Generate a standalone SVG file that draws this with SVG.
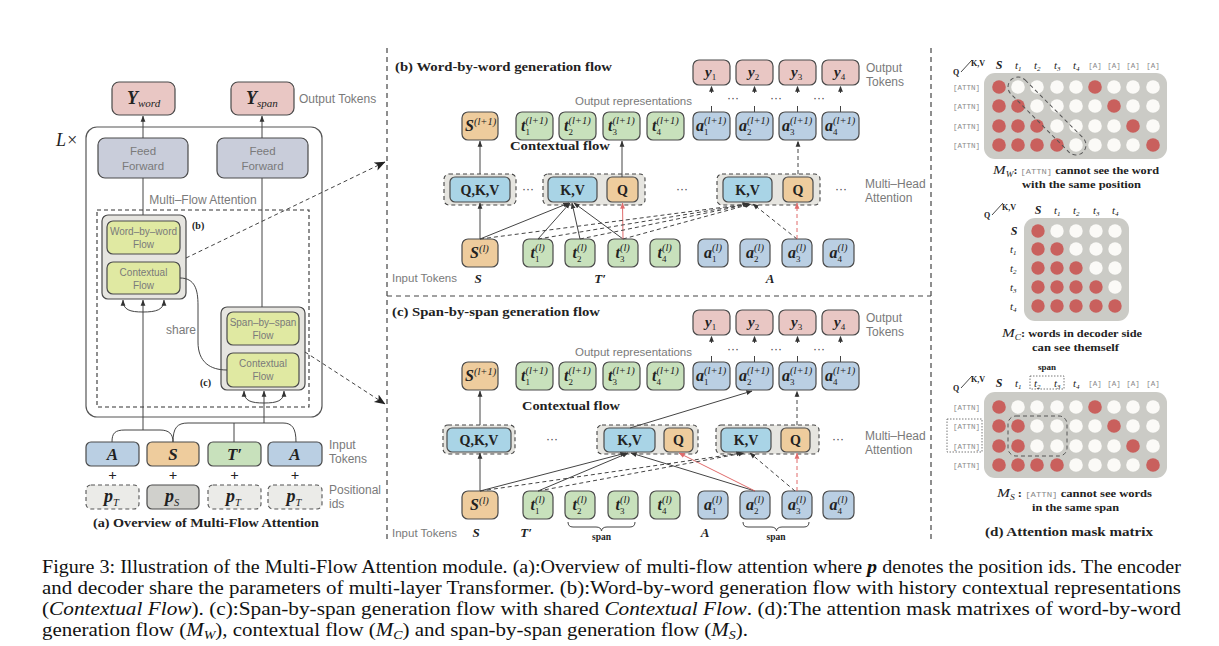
<svg xmlns="http://www.w3.org/2000/svg" width="1219" height="646" viewBox="0 0 1219 646">
<defs>
<style>
.bx{stroke:#4a4a4a;stroke-width:1.2}
.pk{fill:#e9c7c4}.or{fill:#eecc9d}.gr{fill:#c8e1bc}.bl{fill:#bacfe3}.cy{fill:#a9d4e6}.ye{fill:#e0e9a2}.ff{fill:#c9cdda}
.gb{fill:#e6e5e0;stroke:#4a4a4a;stroke-width:1.2}
.grp{fill:#e6e5e0;stroke:#444;stroke-width:1.1;stroke-dasharray:4 3}
.pd{fill:#ebebe8;stroke:#555;stroke-width:1.1;stroke-dasharray:4 3}
.sn{font-family:"Liberation Sans",Arial,sans-serif;fill:#7a7a7a}
.sf{font-family:"Liberation Serif","Times New Roman",serif;fill:#222}
.bi{font-family:"Liberation Serif","Times New Roman",serif;font-style:italic;font-weight:bold;fill:#222}
.it{font-style:italic;font-weight:normal}
.up{font-style:normal;font-weight:normal}
.b{font-weight:bold}
.mono{font-family:"Liberation Mono","Courier New",monospace;fill:#8a8a8a}
.ln{stroke:#444;stroke-width:1;fill:none}
.dl{stroke:#444;stroke-width:1;fill:none;stroke-dasharray:4 3}
.rl{stroke:#e06b6b;stroke-width:1;fill:none}
.rd{stroke:#e06b6b;stroke-width:1;fill:none;stroke-dasharray:4 3}
.dv{stroke:#444;stroke-width:1.2;stroke-dasharray:5 4;fill:none}
.red{fill:#c9605d}.wh{fill:#fbfaf7}
.mat{fill:#cbcbc6}
.dots{font-family:"Liberation Sans",Arial,sans-serif;font-size:12px;fill:#444;text-anchor:middle}
.ctr{text-anchor:middle}
.cap{font-family:"Liberation Serif","Times New Roman",serif;font-size:18px;fill:#111}
.tk{font-size:16px}
.sb{font-size:9px;font-style:normal;font-weight:normal}
.sp{font-size:10.5px;font-style:italic;font-weight:normal}
</style>
<marker id="ah" viewBox="0 0 8 8" refX="7.5" refY="4" markerWidth="6" markerHeight="6" markerUnits="userSpaceOnUse" orient="auto"><path d="M0,0.8 L8,4 L0,7.2z" fill="#333"/></marker>
<marker id="ahr" viewBox="0 0 8 8" refX="7.5" refY="4" markerWidth="6" markerHeight="6" markerUnits="userSpaceOnUse" orient="auto"><path d="M0,0.8 L8,4 L0,7.2z" fill="#e06b6b"/></marker>
<marker id="ahb" viewBox="0 0 10 10" refX="9.5" refY="5" markerWidth="11" markerHeight="11" markerUnits="userSpaceOnUse" orient="auto"><path d="M0,1 L10,5 L0,9 L2.5,5z" fill="#222"/></marker>
</defs>
<rect width="1219" height="646" fill="#ffffff"/>

<!-- ============ Panel (a) ============ -->
<g id="a-outer"><rect x="86" y="127" width="236" height="290" rx="11" fill="none" stroke="#555" stroke-width="1.2"/>
<text class="sf it" x="56" y="146" font-size="18">L×</text></g>
<g id="a-yword"><rect class="bx pk" x="112" y="82" width="63" height="33" rx="7"/><text class="bi" x="127" y="104" font-size="18">Y<tspan class="it" font-size="11" dy="3">word</tspan></text></g>
<g id="a-yspan"><rect class="bx pk" x="231" y="82" width="63" height="33" rx="7"/><text class="bi" x="246" y="104" font-size="18">Y<tspan class="it" font-size="11" dy="3">span</tspan></text></g>
<text class="sn" x="299" y="103" font-size="12">Output Tokens</text>
<g id="a-ff1"><rect class="bx ff" x="98" y="138" width="90" height="40" rx="7"/><text class="sn ctr" x="143" y="155" font-size="11.5">Feed</text><text class="sn ctr" x="143" y="170" font-size="11.5">Forward</text></g>
<g id="a-ff2"><rect class="bx ff" x="217" y="138" width="91" height="40" rx="7"/><text class="sn ctr" x="262.5" y="155" font-size="11.5">Feed</text><text class="sn ctr" x="262.5" y="170" font-size="11.5">Forward</text></g>
<text class="sn ctr" x="203" y="204" font-size="12">Multi–Flow Attention</text>
<rect x="97" y="210" width="212" height="197" fill="none" stroke="#333" stroke-width="1.1" stroke-dasharray="4 3"/>
<g id="a-boxb"><rect class="gb" x="102" y="215" width="84" height="84" rx="6"/>
<rect class="bx ye" x="107" y="221" width="73" height="33" rx="6"/><text class="sn ctr" x="143.5" y="235" font-size="10">Word–by–word</text><text class="sn ctr" x="143.5" y="248" font-size="10">Flow</text>
<rect class="bx ye" x="107" y="262" width="73" height="32" rx="6"/><text class="sn ctr" x="143.5" y="276" font-size="10">Contextual</text><text class="sn ctr" x="143.5" y="289" font-size="10">Flow</text>
<text class="sf b" x="192" y="229" font-size="10">(b)</text></g>
<g id="a-boxc"><rect class="gb" x="221" y="307" width="84" height="83" rx="6"/>
<rect class="bx ye" x="227" y="312" width="72" height="33" rx="6"/><text class="sn ctr" x="263" y="326" font-size="10">Span–by–span</text><text class="sn ctr" x="263" y="339" font-size="10">Flow</text>
<rect class="bx ye" x="227" y="353" width="72" height="34" rx="6"/><text class="sn ctr" x="263" y="367" font-size="10">Contextual</text><text class="sn ctr" x="263" y="380" font-size="10">Flow</text>
<text class="sf b" x="200" y="386" font-size="10">(c)</text></g>
<text class="sn" x="166" y="334" font-size="12">share</text>
<g id="a-in1"><rect class="bx bl" x="86" y="442" width="53" height="24" rx="5"/><text class="bi ctr" x="112.5" y="460" font-size="17">A</text></g>
<g id="a-in2"><rect class="bx or" x="147" y="442" width="52" height="24" rx="5"/><text class="bi ctr" x="173" y="460" font-size="17">S</text></g>
<g id="a-in3"><rect class="bx gr" x="208" y="442" width="53" height="24" rx="5"/><text class="bi ctr" x="234.5" y="460" font-size="17">T′</text></g>
<g id="a-in4"><rect class="bx bl" x="268" y="442" width="54" height="24" rx="5"/><text class="bi ctr" x="295" y="460" font-size="17">A</text></g>
<g class="sf b" font-size="15"><text class="ctr" x="112.5" y="480">+</text><text class="ctr" x="173" y="480">+</text><text class="ctr" x="234.5" y="480">+</text><text class="ctr" x="295" y="480">+</text></g>
<g id="a-p1"><rect class="pd" x="86" y="485" width="53" height="24" rx="5"/><text class="bi" x="104" y="502" font-size="18">p<tspan class="it" font-size="10.5" dy="4">T</tspan></text></g>
<g id="a-p2"><rect class="bx" fill="#d0d0cc" x="147" y="485" width="52" height="24" rx="5"/><text class="bi" x="165" y="502" font-size="18">p<tspan class="it" font-size="10.5" dy="4">S</tspan></text></g>
<g id="a-p3"><rect class="pd" x="208" y="485" width="53" height="24" rx="5"/><text class="bi" x="226" y="502" font-size="18">p<tspan class="it" font-size="10.5" dy="4">T</tspan></text></g>
<g id="a-p4"><rect class="pd" x="268" y="485" width="54" height="24" rx="5"/><text class="bi" x="286.5" y="502" font-size="18">p<tspan class="it" font-size="10.5" dy="4">T</tspan></text></g>
<text class="sn" x="329" y="449" font-size="12">Input</text><text class="sn" x="329" y="463" font-size="12">Tokens</text>
<text class="sn" x="329" y="494" font-size="12">Positional</text><text class="sn" x="329" y="508" font-size="12">ids</text>
<text class="sf b" x="93" y="527" font-size="12" textLength="226" lengthAdjust="spacingAndGlyphs">(a) Overview of Multi-Flow Attention</text>

<!-- dividers -->
<g id="dividers"><line class="dv" x1="387" y1="48" x2="387" y2="540"/><line class="dv" x1="931" y1="48" x2="931" y2="540"/><line class="dv" x1="387" y1="296" x2="931" y2="296"/></g>

<!-- ============ Panel (b) ============ -->
<text class="sf b" x="395" y="71" font-size="12.5" textLength="217" lengthAdjust="spacingAndGlyphs">(b) Word-by-word generation flow</text>
<g id="b-y">
<rect class="bx pk" x="693" y="60" width="37" height="25" rx="6"/><text class="bi" x="705" y="77" font-size="15">y<tspan class="sb" dy="3">1</tspan></text>
<rect class="bx pk" x="736" y="60" width="37" height="25" rx="6"/><text class="bi" x="748" y="77" font-size="15">y<tspan class="sb" dy="3">2</tspan></text>
<rect class="bx pk" x="779" y="60" width="37" height="25" rx="6"/><text class="bi" x="791" y="77" font-size="15">y<tspan class="sb" dy="3">3</tspan></text>
<rect class="bx pk" x="822" y="60" width="37" height="25" rx="6"/><text class="bi" x="834" y="77" font-size="15">y<tspan class="sb" dy="3">4</tspan></text>
</g>
<text class="sn" x="866" y="72" font-size="12">Output</text><text class="sn" x="866" y="86" font-size="12">Tokens</text>
<text class="dots" x="733" y="102">···</text><text class="dots" x="776" y="102">···</text><text class="dots" x="819" y="102">···</text>
<text class="sn" x="575" y="105" font-size="11.5">Output representations</text>
<g id="b-out">
<rect class="bx or" x="462" y="112" width="36" height="28" rx="6"/><text class="bi tk" x="465" y="131">S<tspan class="sp" dy="-6">(l+1)</tspan></text>
<rect class="bx gr" x="516" y="112" width="37" height="28" rx="6"/><text class="bi tk" x="521" y="131">t<tspan class="sb" dy="3.5">1</tspan><tspan class="sp" dx="-4.5" dy="-11">(l+1)</tspan></text>
<rect class="bx gr" x="559" y="112" width="37" height="28" rx="6"/><text class="bi tk" x="564" y="131">t<tspan class="sb" dy="3.5">2</tspan><tspan class="sp" dx="-4.5" dy="-11">(l+1)</tspan></text>
<rect class="bx gr" x="603" y="112" width="37" height="28" rx="6"/><text class="bi tk" x="608" y="131">t<tspan class="sb" dy="3.5">3</tspan><tspan class="sp" dx="-4.5" dy="-11">(l+1)</tspan></text>
<rect class="bx gr" x="647" y="112" width="37" height="28" rx="6"/><text class="bi tk" x="652" y="131">t<tspan class="sb" dy="3.5">4</tspan><tspan class="sp" dx="-4.5" dy="-11">(l+1)</tspan></text>
<rect class="bx bl" x="693" y="112" width="37" height="28" rx="6"/><text class="bi tk" x="696" y="131">a<tspan class="sb" dy="3.5">1</tspan><tspan class="sp" dx="-4.5" dy="-11">(l+1)</tspan></text>
<rect class="bx bl" x="736" y="112" width="37" height="28" rx="6"/><text class="bi tk" x="739" y="131">a<tspan class="sb" dy="3.5">2</tspan><tspan class="sp" dx="-4.5" dy="-11">(l+1)</tspan></text>
<rect class="bx bl" x="779" y="112" width="37" height="28" rx="6"/><text class="bi tk" x="782" y="131">a<tspan class="sb" dy="3.5">3</tspan><tspan class="sp" dx="-4.5" dy="-11">(l+1)</tspan></text>
<rect class="bx bl" x="822" y="112" width="37" height="28" rx="6"/><text class="bi tk" x="825" y="131">a<tspan class="sb" dy="3.5">4</tspan><tspan class="sp" dx="-4.5" dy="-11">(l+1)</tspan></text>
</g>
<text class="sf b" x="510" y="150" font-size="12.5" textLength="100" lengthAdjust="spacingAndGlyphs">Contextual flow</text>
<g id="b-g1"><rect class="grp" x="444" y="174" width="72" height="31" rx="5"/><rect class="bx cy" x="450" y="177" width="60" height="25" rx="5"/><text class="sf b ctr" x="480" y="195" font-size="14">Q,K,V</text></g>
<text class="dots" x="528" y="193">···</text>
<g id="b-g2"><rect class="grp" x="543" y="174" width="102" height="31" rx="5"/><rect class="bx cy" x="548" y="177" width="49" height="25" rx="5"/><text class="sf b ctr" x="572.5" y="195" font-size="14">K,V</text><rect class="bx or" x="607" y="177" width="31" height="25" rx="5"/><text class="sf b ctr" x="622.5" y="195" font-size="14">Q</text></g>
<text class="dots" x="682" y="193">···</text>
<g id="b-g3"><rect class="grp" x="717" y="174" width="103" height="31" rx="5"/><rect class="bx cy" x="723" y="177" width="49" height="25" rx="5"/><text class="sf b ctr" x="747.5" y="195" font-size="14">K,V</text><rect class="bx or" x="783" y="177" width="30" height="25" rx="5"/><text class="sf b ctr" x="798" y="195" font-size="14">Q</text></g>
<text class="dots" x="841" y="193">···</text>
<text class="sn" x="865" y="188" font-size="12">Multi–Head</text><text class="sn" x="865" y="202" font-size="12">Attention</text>
<g id="b-in">
<rect class="bx or" x="462" y="239" width="36" height="28" rx="6"/><text class="bi tk" x="470" y="258">S<tspan class="sp" dy="-6">(l)</tspan></text>
<rect class="bx gr" x="523" y="239" width="30" height="28" rx="6"/><text class="bi tk" x="530.5" y="258">t<tspan class="sb" dy="3.5">1</tspan><tspan class="sp" dx="-4.5" dy="-11">(l)</tspan></text>
<rect class="bx gr" x="565" y="239" width="30" height="28" rx="6"/><text class="bi tk" x="572.5" y="258">t<tspan class="sb" dy="3.5">2</tspan><tspan class="sp" dx="-4.5" dy="-11">(l)</tspan></text>
<rect class="bx gr" x="608" y="239" width="30" height="28" rx="6"/><text class="bi tk" x="615.5" y="258">t<tspan class="sb" dy="3.5">3</tspan><tspan class="sp" dx="-4.5" dy="-11">(l)</tspan></text>
<rect class="bx gr" x="650" y="239" width="30" height="28" rx="6"/><text class="bi tk" x="657.5" y="258">t<tspan class="sb" dy="3.5">4</tspan><tspan class="sp" dx="-4.5" dy="-11">(l)</tspan></text>
<rect class="bx bl" x="698" y="239" width="30" height="28" rx="6"/><text class="bi tk" x="704" y="258">a<tspan class="sb" dy="3.5">1</tspan><tspan class="sp" dx="-4.5" dy="-11">(l)</tspan></text>
<rect class="bx bl" x="740" y="239" width="30" height="28" rx="6"/><text class="bi tk" x="746" y="258">a<tspan class="sb" dy="3.5">2</tspan><tspan class="sp" dx="-4.5" dy="-11">(l)</tspan></text>
<rect class="bx bl" x="782" y="239" width="30" height="28" rx="6"/><text class="bi tk" x="788" y="258">a<tspan class="sb" dy="3.5">3</tspan><tspan class="sp" dx="-4.5" dy="-11">(l)</tspan></text>
<rect class="bx bl" x="823" y="239" width="31" height="28" rx="6"/><text class="bi tk" x="829.5" y="258">a<tspan class="sb" dy="3.5">4</tspan><tspan class="sp" dx="-4.5" dy="-11">(l)</tspan></text>
</g>
<text class="sn" x="392" y="282" font-size="11.5">Input Tokens</text>
<text class="bi ctr" x="478" y="283" font-size="13">S</text><text class="bi ctr" x="600" y="283" font-size="13">T′</text><text class="bi ctr" x="770" y="283" font-size="13">A</text>

<!-- ============ Panel (c) ============ -->
<text class="sf b" x="392" y="316" font-size="12.5" textLength="208" lengthAdjust="spacingAndGlyphs">(c) Span-by-span generation flow</text>
<g id="c-y">
<rect class="bx pk" x="693" y="310" width="37" height="25" rx="6"/><text class="bi" x="705" y="327" font-size="15">y<tspan class="sb" dy="3">1</tspan></text>
<rect class="bx pk" x="736" y="310" width="37" height="25" rx="6"/><text class="bi" x="748" y="327" font-size="15">y<tspan class="sb" dy="3">2</tspan></text>
<rect class="bx pk" x="779" y="310" width="37" height="25" rx="6"/><text class="bi" x="791" y="327" font-size="15">y<tspan class="sb" dy="3">3</tspan></text>
<rect class="bx pk" x="822" y="310" width="37" height="25" rx="6"/><text class="bi" x="834" y="327" font-size="15">y<tspan class="sb" dy="3">4</tspan></text>
</g>
<text class="sn" x="866" y="322" font-size="12">Output</text><text class="sn" x="866" y="336" font-size="12">Tokens</text>
<text class="dots" x="733" y="353">···</text><text class="dots" x="776" y="353">···</text><text class="dots" x="819" y="353">···</text>
<text class="sn" x="575" y="356" font-size="11.5">Output representations</text>
<g id="c-out">
<rect class="bx or" x="462" y="362" width="36" height="28" rx="6"/><text class="bi tk" x="465" y="381">S<tspan class="sp" dy="-6">(l+1)</tspan></text>
<rect class="bx gr" x="516" y="362" width="37" height="28" rx="6"/><text class="bi tk" x="521" y="381">t<tspan class="sb" dy="3.5">1</tspan><tspan class="sp" dx="-4.5" dy="-11">(l+1)</tspan></text>
<rect class="bx gr" x="559" y="362" width="37" height="28" rx="6"/><text class="bi tk" x="564" y="381">t<tspan class="sb" dy="3.5">2</tspan><tspan class="sp" dx="-4.5" dy="-11">(l+1)</tspan></text>
<rect class="bx gr" x="603" y="362" width="37" height="28" rx="6"/><text class="bi tk" x="608" y="381">t<tspan class="sb" dy="3.5">3</tspan><tspan class="sp" dx="-4.5" dy="-11">(l+1)</tspan></text>
<rect class="bx gr" x="647" y="362" width="37" height="28" rx="6"/><text class="bi tk" x="652" y="381">t<tspan class="sb" dy="3.5">4</tspan><tspan class="sp" dx="-4.5" dy="-11">(l+1)</tspan></text>
<rect class="bx bl" x="693" y="362" width="37" height="28" rx="6"/><text class="bi tk" x="696" y="381">a<tspan class="sb" dy="3.5">1</tspan><tspan class="sp" dx="-4.5" dy="-11">(l+1)</tspan></text>
<rect class="bx bl" x="736" y="362" width="37" height="28" rx="6"/><text class="bi tk" x="739" y="381">a<tspan class="sb" dy="3.5">2</tspan><tspan class="sp" dx="-4.5" dy="-11">(l+1)</tspan></text>
<rect class="bx bl" x="779" y="362" width="37" height="28" rx="6"/><text class="bi tk" x="782" y="381">a<tspan class="sb" dy="3.5">3</tspan><tspan class="sp" dx="-4.5" dy="-11">(l+1)</tspan></text>
<rect class="bx bl" x="822" y="362" width="37" height="28" rx="6"/><text class="bi tk" x="825" y="381">a<tspan class="sb" dy="3.5">4</tspan><tspan class="sp" dx="-4.5" dy="-11">(l+1)</tspan></text>
</g>
<text class="sf b" x="522" y="410" font-size="12.5" textLength="98" lengthAdjust="spacingAndGlyphs">Contextual flow</text>
<g id="c-g1"><rect class="grp" x="443" y="425" width="72" height="29" rx="5"/><rect class="bx cy" x="447" y="428" width="64" height="24" rx="5"/><text class="sf b ctr" x="479" y="445" font-size="14">Q,K,V</text></g>
<text class="dots" x="552" y="443">···</text>
<g id="c-g2"><rect class="grp" x="597" y="425" width="101" height="29" rx="5"/><rect class="bx cy" x="604" y="428" width="51" height="24" rx="5"/><text class="sf b ctr" x="629.5" y="445" font-size="14">K,V</text><rect class="bx or" x="664" y="428" width="29" height="24" rx="5"/><text class="sf b ctr" x="678.5" y="445" font-size="14">Q</text></g>
<g id="c-g3"><rect class="grp" x="716" y="425" width="103" height="29" rx="5"/><rect class="bx cy" x="721" y="428" width="50" height="24" rx="5"/><text class="sf b ctr" x="746" y="445" font-size="14">K,V</text><rect class="bx or" x="781" y="428" width="29" height="24" rx="5"/><text class="sf b ctr" x="795.5" y="445" font-size="14">Q</text></g>
<text class="dots" x="838" y="443">···</text>
<text class="sn" x="865" y="440" font-size="12">Multi–Head</text><text class="sn" x="865" y="454" font-size="12">Attention</text>
<g id="c-in">
<rect class="bx or" x="462" y="491" width="36" height="28" rx="6"/><text class="bi tk" x="470" y="510">S<tspan class="sp" dy="-6">(l)</tspan></text>
<rect class="bx gr" x="523" y="491" width="30" height="28" rx="6"/><text class="bi tk" x="530.5" y="510">t<tspan class="sb" dy="3.5">1</tspan><tspan class="sp" dx="-4.5" dy="-11">(l)</tspan></text>
<rect class="bx gr" x="565" y="491" width="30" height="28" rx="6"/><text class="bi tk" x="572.5" y="510">t<tspan class="sb" dy="3.5">2</tspan><tspan class="sp" dx="-4.5" dy="-11">(l)</tspan></text>
<rect class="bx gr" x="608" y="491" width="30" height="28" rx="6"/><text class="bi tk" x="615.5" y="510">t<tspan class="sb" dy="3.5">3</tspan><tspan class="sp" dx="-4.5" dy="-11">(l)</tspan></text>
<rect class="bx gr" x="650" y="491" width="30" height="28" rx="6"/><text class="bi tk" x="657.5" y="510">t<tspan class="sb" dy="3.5">4</tspan><tspan class="sp" dx="-4.5" dy="-11">(l)</tspan></text>
<rect class="bx bl" x="698" y="491" width="30" height="28" rx="6"/><text class="bi tk" x="704" y="510">a<tspan class="sb" dy="3.5">1</tspan><tspan class="sp" dx="-4.5" dy="-11">(l)</tspan></text>
<rect class="bx bl" x="740" y="491" width="30" height="28" rx="6"/><text class="bi tk" x="746" y="510">a<tspan class="sb" dy="3.5">2</tspan><tspan class="sp" dx="-4.5" dy="-11">(l)</tspan></text>
<rect class="bx bl" x="782" y="491" width="30" height="28" rx="6"/><text class="bi tk" x="788" y="510">a<tspan class="sb" dy="3.5">3</tspan><tspan class="sp" dx="-4.5" dy="-11">(l)</tspan></text>
<rect class="bx bl" x="823" y="491" width="31" height="28" rx="6"/><text class="bi tk" x="829.5" y="510">a<tspan class="sb" dy="3.5">4</tspan><tspan class="sp" dx="-4.5" dy="-11">(l)</tspan></text>
</g>
<text class="sn" x="392" y="537" font-size="11.5">Input Tokens</text>
<text class="bi ctr" x="476" y="537" font-size="13">S</text><text class="bi ctr" x="526" y="537" font-size="13">T′</text><text class="bi ctr" x="705" y="537" font-size="13">A</text>
<path class="ln" d="M568,522 Q568,527 573,527 L596,527 Q601,527 601.5,531 Q602,527 607,527 L630,527 Q635,527 635,522"/>
<path class="ln" d="M743,522 Q743,527 748,527 L771,527 Q776,527 776.5,531 Q777,527 782,527 L804,527 Q809,527 809,522"/>
<text class="sf b ctr" x="601.5" y="540" font-size="9.5">span</text><text class="sf b ctr" x="776" y="540" font-size="9.5">span</text>

<!-- ============ Connectors ============ -->
<g id="connectors">
<line class="ln" x1="143" y1="138" x2="143" y2="116" marker-end="url(#ah)"/>
<line class="ln" x1="262" y1="138" x2="262" y2="116" marker-end="url(#ah)"/>
<line class="ln" x1="143" y1="178" x2="143" y2="215"/>
<line class="ln" x1="262" y1="178" x2="262" y2="307"/>
<path class="ln" d="M180,278 C195,278 198,290 198,305 L198,342 C198,362 210,370 227,370"/>
<line class="ln" x1="143" y1="430" x2="143" y2="300" marker-end="url(#ah)"/>
<path class="ln" d="M143,312 C130,312 123,310 123,300" marker-end="url(#ah)"/>
<path class="ln" d="M143,312 C156,312 164,310 164,300" marker-end="url(#ah)"/>
<line class="ln" x1="264" y1="423" x2="264" y2="391" marker-end="url(#ah)"/>
<path class="ln" d="M264,403 C251,403 244,401 244,391" marker-end="url(#ah)"/>
<path class="ln" d="M264,403 C277,403 284,401 284,391" marker-end="url(#ah)"/>
<path class="ln" d="M112,442 C112,433 115,430 125,430 L160,430 C169,430 173,434 173,442"/>
<path class="ln" d="M173,442 C173,428 177,423 188,423 L283,423 C292,423 296,428 296,442"/>
<line class="ln" x1="234" y1="423" x2="234" y2="442"/>
<line class="dl" x1="186" y1="258" x2="385" y2="162" stroke-width="1.2" marker-end="url(#ahb)"/>
<line class="dl" x1="305" y1="352" x2="385" y2="404" stroke-width="1.2" marker-end="url(#ahb)"/>

<!-- (b) -->
<line class="ln" x1="711.5" y1="112" x2="711.5" y2="86" marker-end="url(#ah)" stroke-dasharray="6 13"/><line class="ln" x1="754.5" y1="112" x2="754.5" y2="86" marker-end="url(#ah)" stroke-dasharray="6 13"/><line class="ln" x1="797.5" y1="112" x2="797.5" y2="86" marker-end="url(#ah)" stroke-dasharray="6 13"/><line class="ln" x1="840.5" y1="112" x2="840.5" y2="86" marker-end="url(#ah)" stroke-dasharray="6 13"/>
<line class="ln" x1="480" y1="174" x2="480" y2="141" marker-end="url(#ah)"/>
<line class="ln" x1="622" y1="177" x2="622" y2="141" marker-end="url(#ah)"/>
<line class="dl" x1="798" y1="174" x2="798" y2="141" marker-end="url(#ah)"/>
<line class="ln" x1="480" y1="239" x2="480" y2="203" marker-end="url(#ah)"/>
<line class="ln" x1="480" y1="239" x2="569" y2="203" marker-end="url(#ah)"/>
<line class="ln" x1="538" y1="239" x2="570" y2="203" marker-end="url(#ah)"/>
<line class="ln" x1="580" y1="239" x2="572" y2="203" marker-end="url(#ah)"/>
<line class="ln" x1="623" y1="239" x2="574" y2="203" marker-end="url(#ah)"/>
<line class="rl" x1="623" y1="239" x2="622.5" y2="203" marker-end="url(#ahr)"/>
<line class="dl" x1="480" y1="239" x2="748" y2="204" marker-end="url(#ah)"/>
<line class="dl" x1="538" y1="239" x2="749" y2="204" marker-end="url(#ah)"/>
<line class="dl" x1="580" y1="239" x2="750" y2="204" marker-end="url(#ah)"/>
<line class="dl" x1="623" y1="239" x2="751" y2="204" marker-end="url(#ah)"/>
<line class="dl" x1="797" y1="239" x2="753" y2="204" marker-end="url(#ah)"/>
<line class="rd" x1="797" y1="239" x2="797" y2="203" marker-end="url(#ahr)"/>

<!-- (c) -->
<line class="ln" x1="711.5" y1="362" x2="711.5" y2="336" marker-end="url(#ah)" stroke-dasharray="6 13"/><line class="ln" x1="754.5" y1="362" x2="754.5" y2="336" marker-end="url(#ah)" stroke-dasharray="6 13"/><line class="ln" x1="797.5" y1="362" x2="797.5" y2="336" marker-end="url(#ah)" stroke-dasharray="6 13"/><line class="ln" x1="840.5" y1="362" x2="840.5" y2="336" marker-end="url(#ah)" stroke-dasharray="6 13"/>
<line class="ln" x1="480" y1="425" x2="480" y2="391" marker-end="url(#ah)"/>
<line class="ln" x1="630" y1="428" x2="752" y2="391" marker-end="url(#ah)"/>
<line class="dl" x1="797" y1="425" x2="797" y2="391" marker-end="url(#ah)"/>
<line class="ln" x1="480" y1="491" x2="480" y2="453" marker-end="url(#ah)"/>
<line class="ln" x1="480" y1="491" x2="626" y2="453" marker-end="url(#ah)"/>
<line class="ln" x1="538" y1="491" x2="628" y2="453" marker-end="url(#ah)"/>
<line class="ln" x1="755" y1="491" x2="631" y2="453" marker-end="url(#ah)"/>
<line class="rl" x1="755" y1="491" x2="679" y2="453" marker-end="url(#ahr)"/>
<line class="dl" x1="480" y1="491" x2="742" y2="453" marker-end="url(#ah)"/>
<line class="dl" x1="538" y1="491" x2="744" y2="453" marker-end="url(#ah)"/>
<line class="dl" x1="795" y1="491" x2="750" y2="453" marker-end="url(#ah)"/>
<line class="rd" x1="797" y1="491" x2="797" y2="453" marker-end="url(#ahr)"/>
</g>

<!-- ============ Panel (d) ============ -->
<g id="d-mw">
<text class="sf b" x="953" y="75" font-size="8">Q</text><line x1="961" y1="72" x2="972" y2="60" stroke="#333" stroke-width="0.9"/><text class="sf b" x="971" y="66" font-size="8">K,V</text>
<text class="bi ctr" x="999" y="69" font-size="12">S</text>
<g class="sf it" font-size="11"><text x="1015" y="69">t<tspan font-size="7" dy="2">1</tspan></text><text x="1034" y="69">t<tspan font-size="7" dy="2">2</tspan></text><text x="1054" y="69">t<tspan font-size="7" dy="2">3</tspan></text><text x="1073" y="69">t<tspan font-size="7" dy="2">4</tspan></text></g>
<g class="mono ctr" font-size="7.5"><text x="1095" y="68">[A]</text><text x="1114" y="68">[A]</text><text x="1133" y="68">[A]</text><text x="1153" y="68">[A]</text></g>
<rect class="mat" x="984" y="73" width="183" height="86" rx="11"/>
<g class="mono" font-size="7.5" text-anchor="end"><text x="980" y="90">[ATTN]</text><text x="980" y="109">[ATTN]</text><text x="980" y="129">[ATTN]</text><text x="980" y="148">[ATTN]</text></g>
<g>
<circle class="red" cx="999" cy="87" r="6.8"/><circle class="wh" cx="1018" cy="87" r="6.8"/><circle class="wh" cx="1037" cy="87" r="6.8"/><circle class="wh" cx="1057" cy="87" r="6.8"/><circle class="wh" cx="1076" cy="87" r="6.8"/><circle class="red" cx="1095" cy="87" r="6.8"/><circle class="wh" cx="1114" cy="87" r="6.8"/><circle class="wh" cx="1133" cy="87" r="6.8"/><circle class="wh" cx="1153" cy="87" r="6.8"/>
<circle class="red" cx="999" cy="106" r="6.8"/><circle class="red" cx="1018" cy="106" r="6.8"/><circle class="wh" cx="1037" cy="106" r="6.8"/><circle class="wh" cx="1057" cy="106" r="6.8"/><circle class="wh" cx="1076" cy="106" r="6.8"/><circle class="wh" cx="1095" cy="106" r="6.8"/><circle class="red" cx="1114" cy="106" r="6.8"/><circle class="wh" cx="1133" cy="106" r="6.8"/><circle class="wh" cx="1153" cy="106" r="6.8"/>
<circle class="red" cx="999" cy="126" r="6.8"/><circle class="red" cx="1018" cy="126" r="6.8"/><circle class="red" cx="1037" cy="126" r="6.8"/><circle class="wh" cx="1057" cy="126" r="6.8"/><circle class="wh" cx="1076" cy="126" r="6.8"/><circle class="wh" cx="1095" cy="126" r="6.8"/><circle class="wh" cx="1114" cy="126" r="6.8"/><circle class="red" cx="1133" cy="126" r="6.8"/><circle class="wh" cx="1153" cy="126" r="6.8"/>
<circle class="red" cx="999" cy="145" r="6.8"/><circle class="red" cx="1018" cy="145" r="6.8"/><circle class="red" cx="1037" cy="145" r="6.8"/><circle class="red" cx="1057" cy="145" r="6.8"/><circle class="wh" cx="1076" cy="145" r="6.8"/><circle class="wh" cx="1095" cy="145" r="6.8"/><circle class="wh" cx="1114" cy="145" r="6.8"/><circle class="wh" cx="1133" cy="145" r="6.8"/><circle class="red" cx="1153" cy="145" r="6.8"/>
</g>
<rect x="996" y="106" width="102" height="20" rx="10" fill="none" stroke="#555" stroke-width="1" stroke-dasharray="4 3" transform="rotate(45 1047 116)"/>
<text class="sf b" x="993" y="174" font-size="10.5" textLength="166" lengthAdjust="spacingAndGlyphs"><tspan class="it" font-size="13">M</tspan><tspan class="it" font-size="8" dy="3">W</tspan><tspan dy="-3">: </tspan><tspan class="mono up" font-size="7.5">[ATTN]</tspan> cannot see the word</text>
<text class="sf b" x="1022" y="188" font-size="10.5" textLength="119" lengthAdjust="spacingAndGlyphs">with the same position</text>
</g>

<g id="d-mc">
<text class="sf b" x="984" y="218" font-size="8">Q</text><line x1="992" y1="215" x2="1003" y2="203" stroke="#333" stroke-width="0.9"/><text class="sf b" x="1002" y="210" font-size="8">K,V</text>
<text class="bi ctr" x="1038" y="214" font-size="12">S</text>
<g class="sf it" font-size="11"><text x="1054" y="214">t<tspan font-size="7" dy="2">1</tspan></text><text x="1073" y="214">t<tspan font-size="7" dy="2">2</tspan></text><text x="1093" y="214">t<tspan font-size="7" dy="2">3</tspan></text><text x="1112" y="214">t<tspan font-size="7" dy="2">4</tspan></text></g>
<text class="bi ctr" x="1014" y="235" font-size="12">S</text>
<g class="sf it" font-size="11"><text x="1010" y="253">t<tspan font-size="7" dy="2">1</tspan></text><text x="1010" y="272">t<tspan font-size="7" dy="2">2</tspan></text><text x="1010" y="291">t<tspan font-size="7" dy="2">3</tspan></text><text x="1010" y="310">t<tspan font-size="7" dy="2">4</tspan></text></g>
<rect class="mat" x="1024" y="218" width="105" height="103" rx="11"/>
<circle class="red" cx="1038" cy="231" r="6.7"/><circle class="wh" cx="1057" cy="231" r="6.7"/><circle class="wh" cx="1076" cy="231" r="6.7"/><circle class="wh" cx="1096" cy="231" r="6.7"/><circle class="wh" cx="1115" cy="231" r="6.7"/>
<circle class="red" cx="1038" cy="249" r="6.7"/><circle class="red" cx="1057" cy="249" r="6.7"/><circle class="wh" cx="1076" cy="249" r="6.7"/><circle class="wh" cx="1096" cy="249" r="6.7"/><circle class="wh" cx="1115" cy="249" r="6.7"/>
<circle class="red" cx="1038" cy="268" r="6.7"/><circle class="red" cx="1057" cy="268" r="6.7"/><circle class="red" cx="1076" cy="268" r="6.7"/><circle class="wh" cx="1096" cy="268" r="6.7"/><circle class="wh" cx="1115" cy="268" r="6.7"/>
<circle class="red" cx="1038" cy="287" r="6.7"/><circle class="red" cx="1057" cy="287" r="6.7"/><circle class="red" cx="1076" cy="287" r="6.7"/><circle class="red" cx="1096" cy="287" r="6.7"/><circle class="wh" cx="1115" cy="287" r="6.7"/>
<circle class="red" cx="1038" cy="306" r="6.7"/><circle class="red" cx="1057" cy="306" r="6.7"/><circle class="red" cx="1076" cy="306" r="6.7"/><circle class="red" cx="1096" cy="306" r="6.7"/><circle class="red" cx="1115" cy="306" r="6.7"/>
<text class="sf b" x="1002" y="337" font-size="10.5" textLength="140" lengthAdjust="spacingAndGlyphs"><tspan class="it" font-size="13">M</tspan><tspan class="it" font-size="8" dy="3">C</tspan><tspan dy="-3">: words in decoder side</tspan></text>
<text class="sf b" x="1032" y="351" font-size="10.5" textLength="87" lengthAdjust="spacingAndGlyphs">can see themself</text>
</g>

<g id="d-ms">
<text class="sf b ctr" x="1047" y="370" font-size="9">span</text>
<rect x="1030" y="376" width="34" height="13" fill="none" stroke="#555" stroke-width="0.8" stroke-dasharray="1.5 1.5"/>
<text class="sf b" x="953" y="391" font-size="8">Q</text><line x1="961" y1="388" x2="972" y2="376" stroke="#333" stroke-width="0.9"/><text class="sf b" x="971" y="382" font-size="8">K,V</text>
<text class="bi ctr" x="999" y="387" font-size="12">S</text>
<g class="sf it" font-size="11"><text x="1015" y="387">t<tspan font-size="7" dy="2">1</tspan></text><text x="1034" y="387">t<tspan font-size="7" dy="2">2</tspan></text><text x="1054" y="387">t<tspan font-size="7" dy="2">3</tspan></text><text x="1073" y="387">t<tspan font-size="7" dy="2">4</tspan></text></g>
<g class="mono ctr" font-size="7.5"><text x="1095" y="386">[A]</text><text x="1114" y="386">[A]</text><text x="1133" y="386">[A]</text><text x="1153" y="386">[A]</text></g>
<rect class="mat" x="984" y="392" width="183" height="86" rx="11"/>
<g class="mono" font-size="7.5" text-anchor="end"><text x="980" y="410">[ATTN]</text><text x="980" y="429">[ATTN]</text><text x="980" y="449">[ATTN]</text><text x="980" y="468">[ATTN]</text></g>
<rect x="947" y="419" width="35" height="33" fill="none" stroke="#555" stroke-width="0.8" stroke-dasharray="1.5 1.5"/>
<circle class="red" cx="999" cy="407" r="6.8"/><circle class="wh" cx="1018" cy="407" r="6.8"/><circle class="wh" cx="1037" cy="407" r="6.8"/><circle class="wh" cx="1057" cy="407" r="6.8"/><circle class="wh" cx="1076" cy="407" r="6.8"/><circle class="red" cx="1095" cy="407" r="6.8"/><circle class="wh" cx="1114" cy="407" r="6.8"/><circle class="wh" cx="1133" cy="407" r="6.8"/><circle class="wh" cx="1153" cy="407" r="6.8"/>
<circle class="red" cx="999" cy="426" r="6.8"/><circle class="red" cx="1018" cy="426" r="6.8"/><circle class="wh" cx="1037" cy="426" r="6.8"/><circle class="wh" cx="1057" cy="426" r="6.8"/><circle class="wh" cx="1076" cy="426" r="6.8"/><circle class="wh" cx="1095" cy="426" r="6.8"/><circle class="red" cx="1114" cy="426" r="6.8"/><circle class="wh" cx="1133" cy="426" r="6.8"/><circle class="wh" cx="1153" cy="426" r="6.8"/>
<circle class="red" cx="999" cy="446" r="6.8"/><circle class="red" cx="1018" cy="446" r="6.8"/><circle class="wh" cx="1037" cy="446" r="6.8"/><circle class="wh" cx="1057" cy="446" r="6.8"/><circle class="wh" cx="1076" cy="446" r="6.8"/><circle class="wh" cx="1095" cy="446" r="6.8"/><circle class="wh" cx="1114" cy="446" r="6.8"/><circle class="red" cx="1133" cy="446" r="6.8"/><circle class="wh" cx="1153" cy="446" r="6.8"/>
<circle class="red" cx="999" cy="465" r="6.8"/><circle class="red" cx="1018" cy="465" r="6.8"/><circle class="red" cx="1037" cy="465" r="6.8"/><circle class="red" cx="1057" cy="465" r="6.8"/><circle class="wh" cx="1076" cy="465" r="6.8"/><circle class="wh" cx="1095" cy="465" r="6.8"/><circle class="wh" cx="1114" cy="465" r="6.8"/><circle class="wh" cx="1133" cy="465" r="6.8"/><circle class="red" cx="1153" cy="465" r="6.8"/>
<rect x="1008" y="416" width="59" height="40" rx="8" fill="none" stroke="#555" stroke-width="1" stroke-dasharray="4 3"/>
<text class="sf b" x="997" y="497" font-size="10.5" textLength="155" lengthAdjust="spacingAndGlyphs"><tspan class="it" font-size="13">M</tspan><tspan class="it" font-size="8" dy="3">S</tspan><tspan dy="-3"> : </tspan><tspan class="mono up" font-size="7.5">[ATTN]</tspan>  cannot see words</text>
<text class="sf b" x="1032" y="511" font-size="10.5" textLength="87" lengthAdjust="spacingAndGlyphs">in the same span</text>
<text class="sf b" x="985" y="536" font-size="12" textLength="168" lengthAdjust="spacingAndGlyphs">(d) Attention mask matrix</text>
</g>

<!-- ============ Caption ============ -->
<text class="cap" x="42" y="573" textLength="1139" lengthAdjust="spacingAndGlyphs">Figure 3: Illustration of the Multi-Flow Attention module. (a):Overview of multi-flow attention where <tspan font-weight="bold" font-style="italic">p</tspan> denotes the position ids. The encoder</text>
<text class="cap" x="42" y="594" textLength="1139" lengthAdjust="spacingAndGlyphs">and decoder share the parameters of multi-layer Transformer. (b):Word-by-word generation flow with history contextual representations</text>
<text class="cap" x="42" y="615" textLength="1139" lengthAdjust="spacingAndGlyphs">(<tspan font-style="italic">Contextual Flow</tspan>). (c):Span-by-span generation flow with shared <tspan font-style="italic">Contextual Flow</tspan>. (d):The attention mask matrixes of word-by-word</text>
<text class="cap" x="42" y="636" textLength="706" lengthAdjust="spacingAndGlyphs">generation flow (<tspan font-style="italic">M</tspan><tspan font-size="12" font-style="italic" dy="3">W</tspan><tspan dy="-3">), contextual flow (</tspan><tspan font-style="italic">M</tspan><tspan font-size="12" font-style="italic" dy="3">C</tspan><tspan dy="-3">) and span-by-span generation flow (</tspan><tspan font-style="italic">M</tspan><tspan font-size="12" font-style="italic" dy="3">S</tspan><tspan dy="-3">).</tspan></text>
</svg>
